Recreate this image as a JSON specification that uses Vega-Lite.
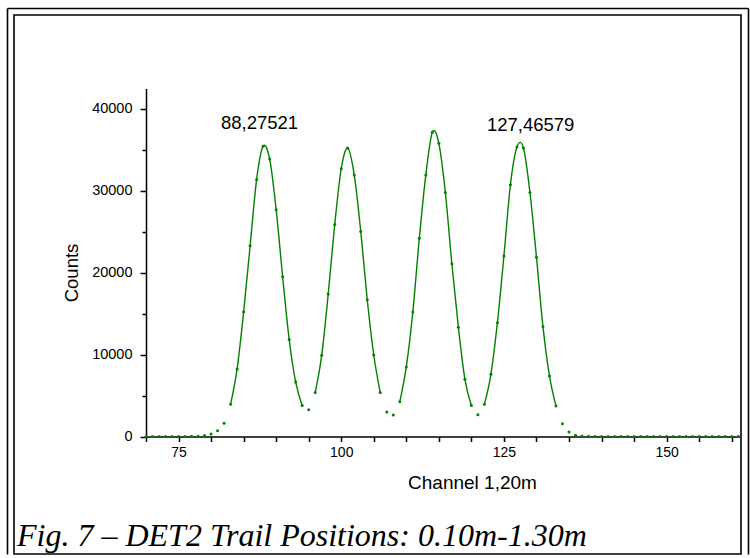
{
  "$schema": "https://vega.github.io/schema/vega-lite/v6.json",
  "width": 727,
  "height": 539,
  "autosize": {"type": "none"},
  "padding": {"left": 14, "top": 15, "right": 9, "bottom": 4},
  "background": "white",
  "config": {
    "view": {"stroke": "black", "strokeWidth": 1.6},
    "font": "Liberation Sans"
  },
  "title": {
    "text": "Fig. 7 – DET2 Trail Positions: 0.10m-1.30m",
    "orient": "bottom",
    "anchor": "start",
    "frame": "group",
    "font": "Liberation Serif",
    "fontStyle": "italic",
    "fontWeight": "normal",
    "fontSize": 32,
    "color": "black",
    "baseline": "alphabetic",
    "offset": -9,
    "dx": 3
  },
  "datasets": {
    "points": [
      {"channel": 70, "counts": 0}, {"channel": 71, "counts": 0}, {"channel": 72, "counts": 0},
      {"channel": 73, "counts": 0}, {"channel": 74, "counts": 0}, {"channel": 75, "counts": 0},
      {"channel": 76, "counts": 10}, {"channel": 77, "counts": 20}, {"channel": 78, "counts": 40},
      {"channel": 79, "counts": 110}, {"channel": 80, "counts": 300}, {"channel": 81, "counts": 710},
      {"channel": 82, "counts": 1630},
      {"channel": 83, "counts": 3950, "peak": 1}, {"channel": 84, "counts": 8250, "peak": 1},
      {"channel": 85, "counts": 15200, "peak": 1}, {"channel": 86, "counts": 23300, "peak": 1},
      {"channel": 87, "counts": 31400, "peak": 1}, {"channel": 88, "counts": 35450, "peak": 1},
      {"channel": 89, "counts": 33900, "peak": 1}, {"channel": 90, "counts": 27700, "peak": 1},
      {"channel": 91, "counts": 19500, "peak": 1}, {"channel": 92, "counts": 11850, "peak": 1},
      {"channel": 93, "counts": 6650, "peak": 1}, {"channel": 94, "counts": 3780, "peak": 1},
      {"channel": 95, "counts": 3280},
      {"channel": 96, "counts": 5360, "peak": 2}, {"channel": 97, "counts": 9930, "peak": 2},
      {"channel": 98, "counts": 17400, "peak": 2}, {"channel": 99, "counts": 25900, "peak": 2},
      {"channel": 100, "counts": 32700, "peak": 2}, {"channel": 101, "counts": 35230, "peak": 2},
      {"channel": 102, "counts": 31950, "peak": 2}, {"channel": 103, "counts": 25050, "peak": 2},
      {"channel": 104, "counts": 16700, "peak": 2}, {"channel": 105, "counts": 9950, "peak": 2},
      {"channel": 106, "counts": 5360, "peak": 2},
      {"channel": 107, "counts": 3000}, {"channel": 108, "counts": 2640},
      {"channel": 109, "counts": 4250, "peak": 3}, {"channel": 110, "counts": 8500, "peak": 3},
      {"channel": 111, "counts": 15200, "peak": 3}, {"channel": 112, "counts": 24200, "peak": 3},
      {"channel": 113, "counts": 31950, "peak": 3}, {"channel": 114, "counts": 37150, "peak": 3},
      {"channel": 115, "counts": 35800, "peak": 3}, {"channel": 116, "counts": 29800, "peak": 3},
      {"channel": 117, "counts": 21100, "peak": 3}, {"channel": 118, "counts": 13350, "peak": 3},
      {"channel": 119, "counts": 7000, "peak": 3}, {"channel": 120, "counts": 3780, "peak": 3},
      {"channel": 121, "counts": 2670},
      {"channel": 122, "counts": 3950, "peak": 4}, {"channel": 123, "counts": 7600, "peak": 4},
      {"channel": 124, "counts": 13900, "peak": 4}, {"channel": 125, "counts": 22050, "peak": 4},
      {"channel": 126, "counts": 30750, "peak": 4}, {"channel": 127, "counts": 35350, "peak": 4},
      {"channel": 128, "counts": 35230, "peak": 4}, {"channel": 129, "counts": 29800, "peak": 4},
      {"channel": 130, "counts": 21900, "peak": 4}, {"channel": 131, "counts": 13420, "peak": 4},
      {"channel": 132, "counts": 7400, "peak": 4}, {"channel": 133, "counts": 3730, "peak": 4},
      {"channel": 134, "counts": 1570}, {"channel": 135, "counts": 550}, {"channel": 136, "counts": 160},
      {"channel": 137, "counts": 50}, {"channel": 138, "counts": 20}, {"channel": 139, "counts": 10},
      {"channel": 140, "counts": 0}, {"channel": 141, "counts": 0}, {"channel": 142, "counts": 0},
      {"channel": 143, "counts": 0}, {"channel": 144, "counts": 0}, {"channel": 145, "counts": 0},
      {"channel": 146, "counts": 0}, {"channel": 147, "counts": 0}, {"channel": 148, "counts": 0},
      {"channel": 149, "counts": 0}, {"channel": 150, "counts": 0}, {"channel": 151, "counts": 0},
      {"channel": 152, "counts": 0}, {"channel": 153, "counts": 0}, {"channel": 154, "counts": 0},
      {"channel": 155, "counts": 0}, {"channel": 156, "counts": 0}, {"channel": 157, "counts": 0},
      {"channel": 158, "counts": 0}, {"channel": 159, "counts": 0}, {"channel": 160, "counts": 0},
      {"channel": 161, "counts": 0}
    ],
    "labels": [
      {"channel": 87.45, "counts": 38300, "label": "88,27521"},
      {"channel": 129.1, "counts": 38100, "label": "127,46579"}
    ]
  },
  "layer": [
    {
      "data": {"name": "points"},
      "encoding": {
        "x": {
          "field": "channel",
          "type": "quantitative",
          "scale": {"domain": [70, 161.2], "range": [132, 725.5], "nice": false, "zero": false},
          "axis": {
            "orient": "bottom",
            "offset": -117.5,
            "values": [70, 75, 80, 85, 90, 95, 100, 105, 110, 115, 120, 125, 130, 135, 140, 145, 150, 155, 160],
            "labelExpr": "datum.value % 25 === 0 ? datum.label : ''",
            "format": "d",
            "labelOverlap": false,
            "labelFontSize": 14,
            "labelColor": "black",
            "labelPadding": 4,
            "tickSize": 5,
            "tickColor": "black",
            "tickWidth": 1.5,
            "domainColor": "black",
            "domainWidth": 1.5,
            "grid": false,
            "title": "Channel 1,20m",
            "titleFontSize": 19,
            "titleFontWeight": "normal",
            "titleColor": "black",
            "titleX": 458,
            "titleY": 52,
            "titleAlign": "center",
            "titleBaseline": "alphabetic"
          }
        },
        "y": {
          "field": "counts",
          "type": "quantitative",
          "scale": {"domain": [0, 42500], "range": [421.5, 73.5], "nice": false, "zero": false},
          "axis": {
            "orient": "left",
            "offset": -132,
            "values": [0, 5000, 10000, 15000, 20000, 25000, 30000, 35000, 40000],
            "labelExpr": "datum.value % 10000 === 0 ? datum.label : ''",
            "format": "d",
            "labelOverlap": false,
            "labelFontSize": 14.5,
            "labelColor": "black",
            "labelPadding": 8,
            "tickSize": {"condition": {"test": "datum.value % 10000 === 0", "value": 6}, "value": 4},
            "tickColor": "black",
            "tickWidth": 1.5,
            "domainColor": "black",
            "domainWidth": 1.5,
            "grid": false,
            "title": "Counts",
            "titleFontSize": 18.5,
            "titleFontWeight": "normal",
            "titleColor": "black",
            "titleX": -69,
            "titleY": 257.5,
            "titleAngle": -90,
            "titleAlign": "center",
            "titleBaseline": "alphabetic"
          }
        }
      },
      "layer": [
        {
          "transform": [{"filter": "datum.peak != null"}],
          "mark": {"type": "line", "interpolate": "cardinal", "color": "#008000", "strokeWidth": 1.4, "clip": false},
          "encoding": {"detail": {"field": "peak", "type": "nominal"}}
        },
        {
          "mark": {"type": "point", "filled": true, "size": 9, "color": "#008000", "opacity": 1, "clip": false}
        },
        {
          "data": {"name": "labels"},
          "mark": {"type": "text", "fontSize": 18.5, "color": "black", "align": "center", "baseline": "middle"},
          "encoding": {"text": {"field": "label", "type": "nominal"}}
        }
      ]
    },
    {
      "data": {"name": "points"},
      "mark": {"type": "point", "opacity": 0},
      "encoding": {
        "x": {
          "field": "channel",
          "type": "quantitative",
          "scale": {"domain": [0, 1], "range": [-7, 734], "nice": false, "zero": false},
          "axis": {
            "orient": "top",
            "offset": 7,
            "values": [0, 1],
            "labels": false,
            "title": null,
            "grid": false,
            "tickSize": -546,
            "tickColor": "black",
            "tickWidth": 1.6,
            "domainColor": "black",
            "domainWidth": 1.6
          }
        }
      }
    }
  ],
  "resolve": {"scale": {"x": "independent"}, "axis": {"x": "independent"}}
}
